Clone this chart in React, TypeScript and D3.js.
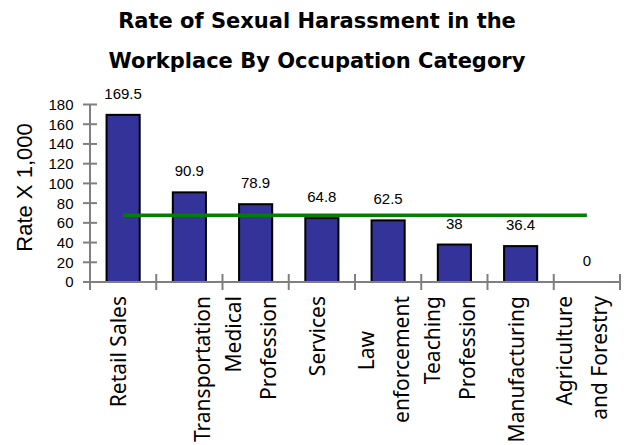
import React from "react";
import * as d3 from "d3";

const categories = [
  "Retail Sales",
  "Transportation",
  "Medical Profession",
  "Services",
  "Law enforcement",
  "Teaching Profession",
  "Manufacturing",
  "Agriculture and Forestry",
];
const labelLines: string[][] = [
  ["Retail Sales"],
  ["", "Transportation"],
  ["Medical", "Profession"],
  ["Services"],
  ["Law", "enforcement"],
  ["Teaching", "Profession"],
  ["Manufacturing"],
  ["Agriculture", "and Forestry"],
];
const rates = [169.5, 90.9, 78.9, 64.8, 62.5, 38, 36.4, 0];
const averageRate = [67.6, 67.6, 67.6, 67.6, 67.6, 67.6, 67.6, 67.6];
const yTicks = [0, 20, 40, 60, 80, 100, 120, 140, 160, 180];
const titleLines = ["Rate of Sexual Harassment in the", "Workplace By Occupation Category"];
const yTitle = "Rate X 1,000";

// layout
const W = 631;
const H = 445;
const X0 = 90;
const X1 = 620;
const Y0 = 282;
const Y1 = 104.5;
const lineShift: Record<string, number> = { Law: 35 };

export default function App() {
  const x = d3
    .scaleBand<string>()
    .domain(categories)
    .range([X0, X1])
    .paddingInner(0.5)
    .paddingOuter(0.25);
  const y = d3.scaleLinear().domain([0, 180]).range([Y0, Y1]);
  const step = x.step();
  const cx = (c: string) => (x(c) as number) + x.bandwidth() / 2;

  const avgLine = d3
    .line<number>()
    .x((_, i) => cx(categories[i]))
    .y((d) => y(d));

  const axisColor = "#7f7f7f";
  const boundaries = d3.range(categories.length + 1).map((i) => X0 + i * step);

  return (
    <svg
      width={W}
      height={H}
      style={{ position: "absolute", left: 0, top: 0, background: "#fff" }}
    >
      {titleLines.map((t, i) => (
        <text
          key={t}
          x={317}
          y={28.3 + i * 40}
          textAnchor="middle"
          fontFamily="DejaVu Sans"
          fontWeight="bold"
          fontSize={21}
          fill="#000"
        >
          {t}
        </text>
      ))}

      <text
        transform={`translate(31.5, 187.5) rotate(-90)`}
        textAnchor="middle"
        fontFamily="Liberation Sans"
        fontSize={22}
        fill="#000"
      >
        {yTitle}
      </text>

      {/* y axis */}
      <line x1={X0} x2={X0} y1={y(180)} y2={Y0 + 8} stroke={axisColor} strokeWidth={2} />
      {yTicks.map((t) => (
        <g key={t}>
          <line x1={X0 - 7} x2={X0 + 7} y1={y(t)} y2={y(t)} stroke={axisColor} strokeWidth={2} />
          <text
            x={73.5}
            y={y(t)}
            dy="0.36em"
            textAnchor="end"
            fontFamily="Liberation Sans"
            fontSize={15}
            fill="#000"
          >
            {t}
          </text>
        </g>
      ))}

      {/* bars */}
      {categories.map((c, i) => (
        <rect
          key={c}
          x={x(c)}
          y={y(rates[i])}
          width={x.bandwidth()}
          height={Y0 - y(rates[i])}
          fill="#333399"
          stroke="#000"
          strokeWidth={2}
        />
      ))}

      {/* x axis */}
      <line x1={X0} x2={X1} y1={Y0} y2={Y0} stroke={axisColor} strokeWidth={2} />
      {boundaries.map((bx, i) => (
        <line key={i} x1={bx} x2={bx} y1={Y0 - 8} y2={Y0 + 8} stroke={axisColor} strokeWidth={2} />
      ))}

      {/* average line */}
      <path d={avgLine(averageRate) || ""} fill="none" stroke="#008000" strokeWidth={3.5} />

      {/* value labels */}
      {categories.map((c, i) => (
        <text
          key={c}
          x={cx(c)}
          y={y(rates[i]) - 16}
          textAnchor="middle"
          fontFamily="Liberation Sans"
          fontSize={15}
          fill="#000"
        >
          {rates[i]}
        </text>
      ))}

      {/* category labels */}
      {categories.map((c, i) => {
        const lines = labelLines[i];
        const n = lines.length;
        return lines.map((ln, j) => {
          const bx = cx(c) + 3 + (j - (n - 1) / 2) * 35;
          const ty = 296 + (lineShift[ln] || 0);
          return (
            <text
              key={c + j}
              transform={`translate(${bx}, ${ty}) rotate(-90)`}
              textAnchor="end"
              fontFamily="Noto Sans"
              fontSize={21}
              fill="#000"
            >
              {ln}
            </text>
          );
        });
      })}
    </svg>
  );
}
